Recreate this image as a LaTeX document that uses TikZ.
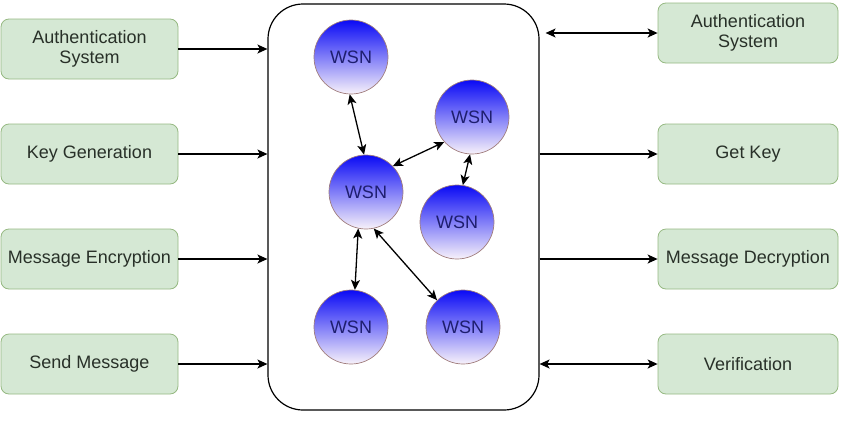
\documentclass[tikz,border=0pt]{standalone}
\usepackage{fontspec}
\setmainfont{Liberation Sans}
\usetikzlibrary{arrows.meta}
\definecolor{boxfill}{RGB}{213,232,212}
\definecolor{boxdraw}{RGB}{150,185,130}
\definecolor{boxtext}{RGB}{40,48,40}
\definecolor{wsntop}{RGB}{10,10,245}
\definecolor{wsnbot}{RGB}{248,242,250}
\definecolor{wsndraw}{RGB}{160,125,125}
\definecolor{wsntext}{RGB}{30,30,110}
\tikzset{
  x=1pt, y=-1pt,
  box/.style={draw=boxdraw, fill=boxfill, rounded corners=8pt, line width=0.8pt,
    minimum height=60pt, align=center, text=boxtext, inner sep=2pt,
    font=\fontsize{18}{20.5}\selectfont},
  wsn/.style={circle, draw=wsndraw, line width=0.7pt, top color=wsntop, bottom color=wsnbot,
    minimum size=74pt, inner sep=0pt, text=wsntext, font=\fontsize{18}{20}\selectfont},
  tip/.tip={Stealth[length=10pt,width=9pt,inset=2.5pt]},
  conn/.style={line width=1.3pt, -tip},
  dconn/.style={line width=1.3pt, tip-tip},
}
\begin{document}
\begin{tikzpicture}
\useasboundingbox (0,0) rectangle (848,426);
% main container
\node[draw, line width=1.2pt, rounded corners=35pt, minimum width=271pt, minimum height=406pt, inner sep=0pt] (main) at (403.5,207) {};
% left boxes
\node[box, minimum width=177pt] (l1) at (89.5,49) {Authentication\\System};
\node[box, minimum width=177pt] (l2) at (89.5,154) {Key Generation};
\node[box, minimum width=177pt] (l3) at (89.5,259) {Message Encryption};
\node[box, minimum width=177pt] (l4) at (89.5,364) {Send Message};
% right boxes
\node[box, minimum width=180pt] (r1) at (748,33) {Authentication\\System};
\node[box, minimum width=180pt] (r2) at (748,154) {Get Key};
\node[box, minimum width=180pt] (r3) at (748,259) {Message Decryption};
\node[box, minimum width=180pt] (r4) at (748,364) {Verification};
% WSN nodes
\node[wsn] (w1) at (351,57) {WSN};
\node[wsn] (w2) at (472,117) {WSN};
\node[wsn] (w3) at (366,192) {WSN};
\node[wsn] (w4) at (457,222) {WSN};
\node[wsn] (w5) at (351,327) {WSN};
\node[wsn] (w6) at (463,327) {WSN};
% left connectors
\draw[conn] (l1.east) -- (l1.east -| main.west);
\draw[conn] (l2.east) -- (l2.east -| main.west);
\draw[conn] (l3.east) -- (l3.east -| main.west);
\draw[conn] (l4.east) -- (l4.east -| main.west);
% right connectors
\coordinate (rs1) at ([xshift=6pt]r1.west -| main.east);
\draw[dconn] (rs1) -- (r1.west);
\draw[conn] (r2.west -| main.east) -- (r2.west);
\draw[conn] (r3.west -| main.east) -- (r3.west);
\draw[dconn] (r4.west -| main.east) -- (r4.west);
% WSN links
\draw[dconn] (w1.268) -- (w3.93);
\draw[dconn] (w3.44) -- (w2.222);
\draw[dconn] (w2.267) -- (w4.81);
\draw[dconn] (w3.258) -- (w5.84);
\draw[dconn] (w3.282) -- (w6.134);
\end{tikzpicture}
\end{document}
